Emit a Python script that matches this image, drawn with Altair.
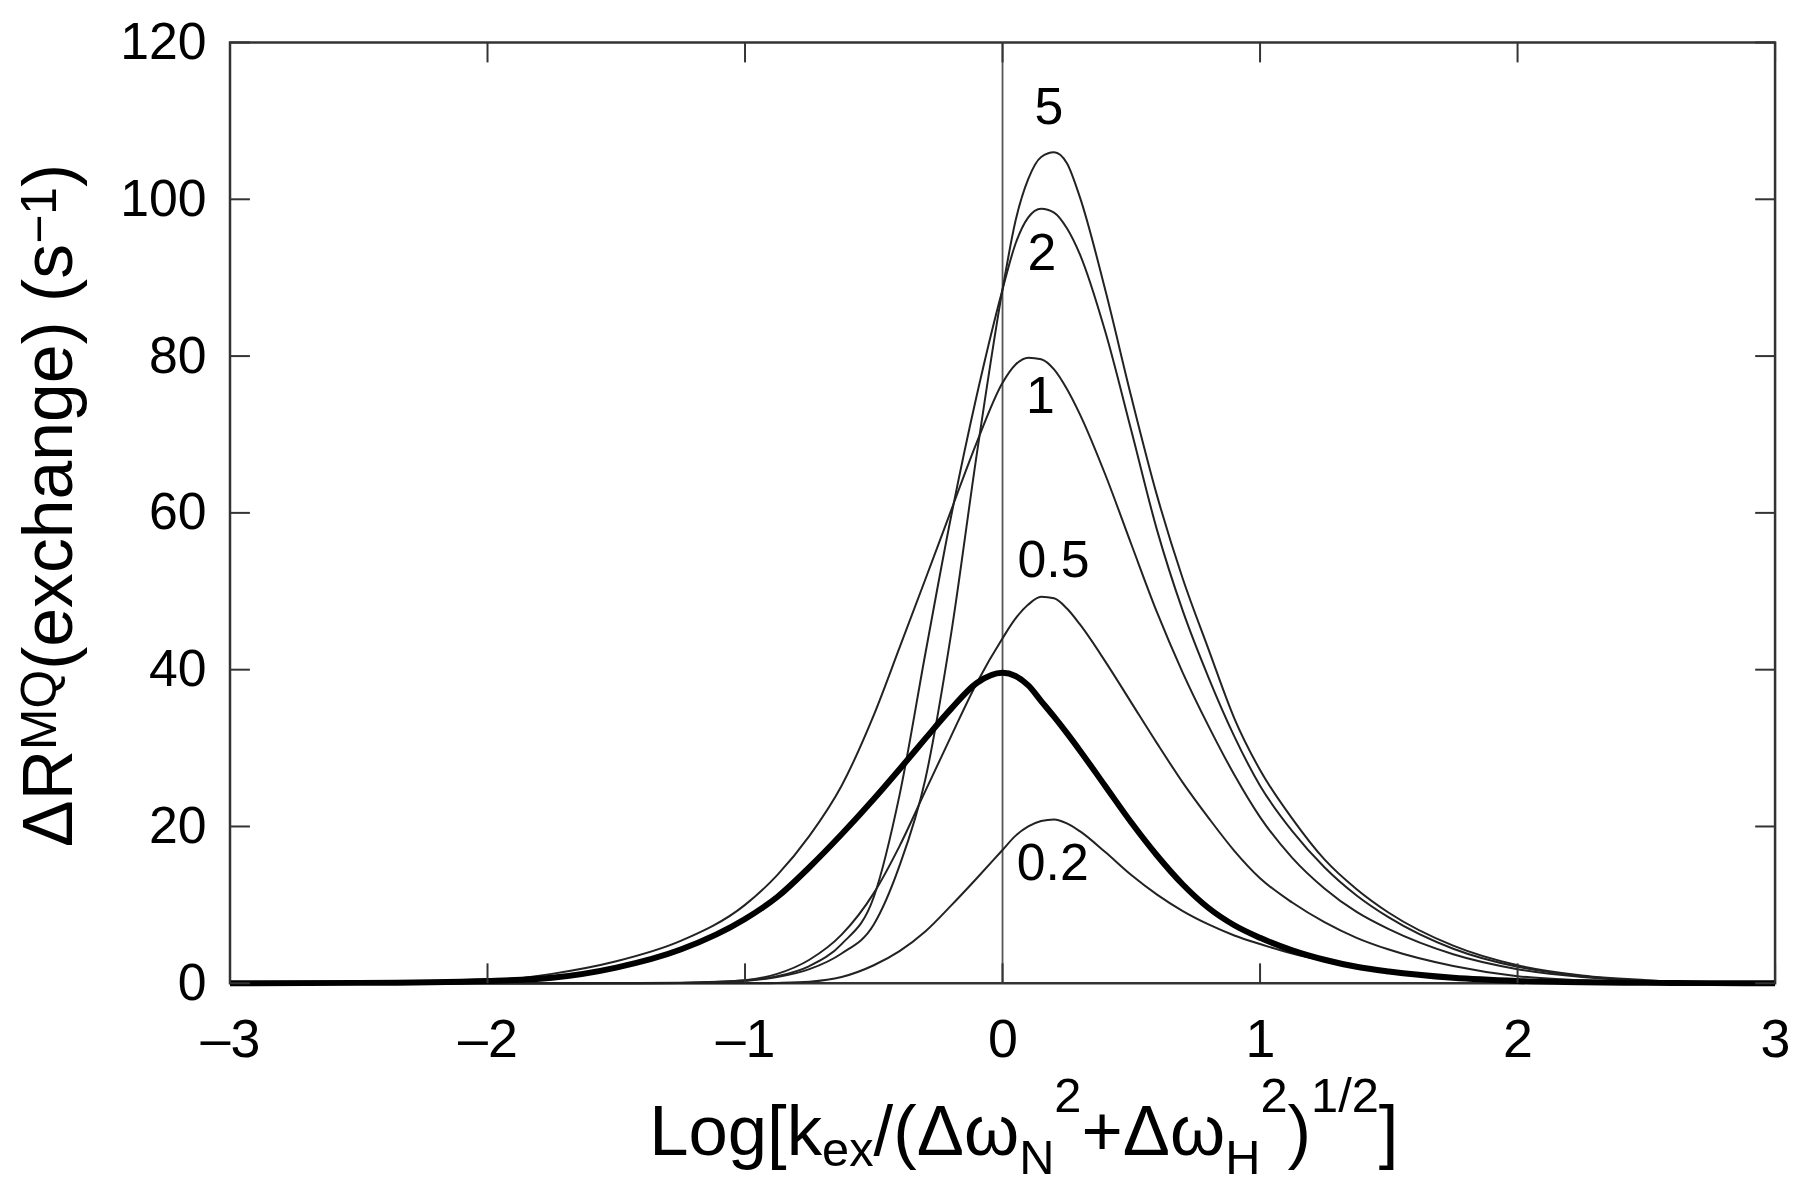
import altair as alt
import pandas as pd

# ---------------- data ----------------
x_grid = [-3.0, -2.5, -2.0, -1.75, -1.5, -1.25, -1.0, -0.875, -0.75, -0.625, -0.5,
          -0.4, -0.3, -0.2, -0.1, 0.0, 0.05, 0.1, 0.15, 0.2, 0.25, 0.3, 0.4, 0.5,
          0.6, 0.7, 0.8, 0.9, 1.0, 1.125, 1.25, 1.375, 1.5, 1.75, 2.0, 2.25, 2.5, 2.75, 3.0]

r_5 = [0.0, 0.0, 0.0, 0.0, 0.0, 0.05, 0.3, 0.8, 1.8, 3.8, 7.5, 15.0, 26.0, 44.5, 67.5,
       88.5, 97.2, 102.6, 105.4, 106.0, 104.6, 100.3, 88.3, 74.8, 62.2, 51.6, 42.6, 33.8,
       27.2, 21.0, 15.8, 12.0, 9.0, 4.8, 2.3, 1.0, 0.4, 0.1, 0.0]
r_2 = [0.0, 0.0, 0.0, 0.0, 0.02, 0.08, 0.35, 0.9, 2.2, 5.0, 11.0, 24.0, 42.0, 59.5, 75.0,
       88.5, 94.3, 97.7, 98.8, 98.3, 96.3, 93.0, 83.0, 70.5, 57.8, 47.5, 39.0, 31.5,
       25.2, 19.4, 14.8, 11.2, 8.4, 4.4, 2.1, 0.9, 0.35, 0.1, 0.0]
r_1 = [0.0, 0.05, 0.3, 1.2, 2.8, 5.4, 10.0, 13.8, 18.8, 25.2, 34.2, 42.8, 51.5, 60.3, 69.0,
       76.6, 78.9, 79.8, 79.6, 78.3, 75.8, 72.6, 64.8, 56.0, 47.3, 39.6, 32.8, 26.6,
       21.2, 16.0, 12.1, 9.1, 6.9, 3.7, 1.8, 0.8, 0.3, 0.1, 0.0]
r_05 = [0.0, 0.0, 0.0, 0.0, 0.0, 0.05, 0.4, 1.2, 3.0, 6.2, 11.5, 17.5, 24.5, 31.5, 38.3,
        44.0, 46.5, 48.3, 49.3, 49.1, 47.8, 45.8, 41.0, 35.8, 30.6, 25.6, 21.1, 16.9,
        13.4, 10.3, 7.8, 5.8, 4.3, 2.2, 0.9, 0.4, 0.15, 0.05, 0.0]
r_02 = [0.0, 0.0, 0.0, 0.0, 0.0, 0.0, 0.0, 0.05, 0.2, 0.8, 2.3, 4.1, 6.6, 9.9, 13.4,
        17.0, 18.8, 20.0, 20.7, 20.9, 20.4, 19.4, 16.7, 13.8, 11.3, 9.2, 7.5, 6.1,
        5.0, 3.8, 2.9, 2.2, 1.6, 0.8, 0.4, 0.2, 0.08, 0.03, 0.0]
r_ref = [0.0, 0.05, 0.3, 0.7, 2.0, 4.3, 8.2, 11.0, 14.8, 19.0, 23.5, 27.3, 31.2, 35.0, 38.3,
         39.6, 39.2, 38.0, 36.0, 34.0, 31.9, 29.7, 25.1, 20.5, 16.3, 12.6, 9.6, 7.4,
         5.8, 4.2, 3.0, 2.1, 1.5, 0.7, 0.3, 0.12, 0.05, 0.02, 0.0]

series_names = ["5", "2", "1", "0.5", "0.2"]

curve_labels = ["5", "2", "1", "0.5", "0.2"]
label_x = [0.18, 0.153, 0.147, 0.198, 0.195]
label_y = [111.6, 93.0, 74.8, 53.8, 15.2]

x_ticks = [-3, -2, -1, 0, 1, 2, 3]
y_ticks = [0, 20, 40, 60, 80, 100, 120]
zero_line_x = [0]

# ---------------- layout ----------------
OX, OY = 231, 40          # page position of plot origin
W, H = 1552, 945
FONT = "Liberation Sans, Arial, Helvetica, sans-serif"
TICK = 20

xs = alt.Scale(domain=[-3, 3], nice=False, zero=False)
ys = alt.Scale(domain=[0, 120], nice=False)

x_axis = alt.Axis(values=x_ticks, title=None, ticks=False, tickSize=0,
                  domain=False, grid=False, labelFont=FONT, labelFontSize=54,
                  labelColor="black", labelPadding=31, labelFlush=False,
                  labelOverlap=False,
                  labelExpr="datum.value < 0 ? '\u2013' + abs(datum.value) : datum.label")
y_axis = alt.Axis(values=y_ticks, title=None, ticks=False, tickSize=0,
                  domain=False, grid=False, labelFont=FONT, labelFontSize=52,
                  labelColor="black", labelPadding=24, labelFlush=False,
                  labelOverlap=False)


def X(field):
    return alt.X(f"{field}:Q", scale=xs, axis=x_axis)


def Y(field):
    return alt.Y(f"{field}:Q", scale=ys, axis=y_axis)


rows = []
for name, vals in zip(series_names, [r_5, r_2, r_1, r_05, r_02]):
    for xv, yv in zip(x_grid, vals):
        rows.append({"x": xv, "y": yv, "series": name})
thin_df = pd.DataFrame(rows)
ref_df = pd.DataFrame({"x": x_grid, "y": r_ref})

thin = alt.Chart(thin_df).mark_line(
    interpolate="monotone", color="#222", strokeWidth=2
).encode(x=X("x"), y=Y("y"), detail="series:N")

thick = alt.Chart(ref_df).mark_line(
    interpolate="monotone", color="black", strokeWidth=6
).encode(x=X("x"), y=Y("y"))

zero_rule = alt.Chart(pd.DataFrame({"x": zero_line_x})).mark_rule(
    color="#555", strokeWidth=1.8
).encode(x=X("x"), y=alt.value(0), y2=alt.value(H))

xt = pd.DataFrame({"x": x_ticks})
yt = pd.DataFrame({"y": y_ticks})
tick_style = dict(color="#333", strokeWidth=2)
bottom_ticks = alt.Chart(xt).mark_rule(**tick_style).encode(
    x=X("x"), y=alt.value(H), y2=alt.value(H - TICK))
top_ticks = alt.Chart(xt).mark_rule(**tick_style).encode(
    x=X("x"), y=alt.value(0), y2=alt.value(TICK))
left_ticks = alt.Chart(yt).mark_rule(**tick_style).encode(
    y=Y("y"), x=alt.value(0), x2=alt.value(TICK))
right_ticks = alt.Chart(yt).mark_rule(**tick_style).encode(
    y=Y("y"), x=alt.value(W - TICK), x2=alt.value(W))

lab_df = pd.DataFrame({"x": label_x, "y": label_y, "t": curve_labels})
labels = alt.Chart(lab_df).mark_text(
    font=FONT, fontSize=52, color="black", align="center", baseline="middle"
).encode(x=X("x"), y=Y("y"), text="t:N")

# ---------------- axis titles with sub/superscripts ----------------
ADV = {"L": .556, "o": .556, "g": .556, "[": .278, "k": .5, "e": .556, "x": .5,
       "/": .278, "(": .333, "Δ": .668, "ω": .781, "N": .722, "2": .556, "+": .584,
       "H": .722, ")": .333, "1": .556, "]": .278, "R": .722, "M": .833, "Q": .778,
       "c": .5, "h": .556, "a": .556, "n": .556, " ": .278, "s": .5, "−": .584}


def tw(s, size):
    return sum(ADV.get(c, 0.556) for c in s) * size


one = alt.Data(values=[{"a": 1}])
title_layers = []

# x title (horizontal)
x_pieces = [("Log[k", 71, 0), ("ex", 49, 12), ("/(Δω", 71, 0), ("N", 49, 20),
            ("2", 49, -43), ("+Δω", 71, 0), ("H", 49, 20), ("2", 49, -43),
            (")", 71, 0), ("1/2", 49, -43), ("]", 71, 0)]
cx = 652 - OX
base_y = 1157 - OY
for t, fs, dy in x_pieces:
    title_layers.append(
        alt.Chart(one).mark_text(text=t, font=FONT, fontSize=fs, color="black",
                                 align="left", baseline="alphabetic")
        .encode(x=alt.value(cx), y=alt.value(base_y + dy)))
    cx += tw(t, fs)

# y title (rotated, reading upward)
y_pieces = [("ΔR", 70, 0), ("MQ", 50, 16), ("(exchange) (s", 70, 0),
            ("−1", 50, 16), (")", 70, 0)]
cy = 848 - OY
base_x = 72 - OX
for t, fs, raise_ in y_pieces:
    title_layers.append(
        alt.Chart(one).mark_text(text=t, font=FONT, fontSize=fs, color="black",
                                 align="left", baseline="alphabetic", angle=270)
        .encode(x=alt.value(base_x - raise_), y=alt.value(cy)))
    cy -= tw(t, fs)

chart = alt.layer(
    zero_rule, thin, thick, bottom_ticks, top_ticks, left_ticks, right_ticks,
    labels, *title_layers
).properties(
    width=W, height=H,
    autosize=alt.AutoSizeParams(type="none"),
    padding={"left": OX - 8, "top": OY - 8, "right": 17, "bottom": 203},
    background="white",
).configure_view(stroke="#333", strokeWidth=2.5)

chart.save("out.html", embed_options={"renderer": "svg", "actions": False})
